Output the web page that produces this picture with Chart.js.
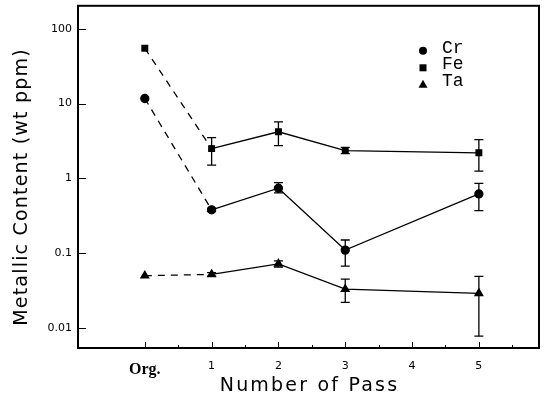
<!DOCTYPE html>
<html>
<head>
<meta charset="utf-8">
<script src="https://cdn.jsdelivr.net/npm/chart.js@4/dist/chart.umd.min.js"></script>
<style>
  html, body { margin: 0; padding: 0; background: #fff; }
  #wrap { width: 548px; height: 407px; }
</style>
</head>
<body>
<div id="wrap"><canvas id="chart"></canvas></div>
<script>
// x positions: 0 = "Org.", then pass numbers
const passes = [0, 1, 2, 3, 5];
const xTickValues = [0, 1, 2, 3, 4, 5];
const xTickLabels = ['Org.', '1', '2', '3', '4', '5'];
const yTickLabels = [0.01, 0.1, 1, 10, 100];

const crValues = [11.7, 0.38, 0.74, 0.11, 0.62];
const crLow    = [null, 0.36, 0.64, 0.067, 0.37];
const crHigh   = [null, 0.40, 0.88, 0.15, 0.86];

const feValues = [55, 2.5, 4.2, 2.35, 2.2];
const feLow    = [null, 1.5, 2.75, 2.15, 1.25];
const feHigh   = [null, 3.5, 5.7, 2.6, 3.3];

const taValues = [0.05, 0.052, 0.072, 0.033, 0.029];
const taLow    = [null, 0.049, 0.065, 0.022, 0.0078];
const taHigh   = [null, 0.055, 0.079, 0.045, 0.049];

const seriesNames = ['Cr', 'Fe', 'Ta'];
const pointStyles = ['circle', 'rect', 'triangle'];
const xTitle = 'Number of Pass';
const yTitle = 'Metallic Content (wt ppm)';

function pts(vals) {
  return passes.map((x, i) => ({ x: x, y: vals[i] }));
}

// dashed from Org. to pass 1, solid after
const segStyle = {
  borderDash: ctx => ctx.p0.parsed.x === 0 ? [7, 6] : undefined
};

function makeSet(i, vals, low, high) {
  return {
    label: seriesNames[i],
    data: pts(vals),
    low: low,
    high: high,
    borderColor: '#000',
    backgroundColor: '#000',
    borderWidth: 1.3,
    pointStyle: pointStyles[i],
    pointRadius: i === 2 ? 4.5 : 4,
    segment: segStyle,
    tension: 0
  };
}

const errorBars = {
  id: 'errorBars',
  afterDatasetsDraw(chart) {
    const c = chart.ctx, xs = chart.scales.x, ys = chart.scales.y;
    c.save();
    c.strokeStyle = '#000';
    c.lineWidth = 1.3;
    chart.data.datasets.forEach(ds => {
      passes.forEach((p, i) => {
        if (ds.low[i] == null) return;
        const x = xs.getPixelForValue(p);
        const y1 = ys.getPixelForValue(ds.low[i]);
        const y2 = ys.getPixelForValue(ds.high[i]);
        c.beginPath();
        c.moveTo(x, y1); c.lineTo(x, y2);
        c.moveTo(x - 4.5, y1); c.lineTo(x + 4.5, y1);
        c.moveTo(x - 4.5, y2); c.lineTo(x + 4.5, y2);
        c.stroke();
      });
    });
    c.restore();
  }
};

const frameAndTicks = {
  id: 'frameAndTicks',
  afterDraw(chart) {
    const c = chart.ctx, a = chart.chartArea;
    const xs = chart.scales.x, ys = chart.scales.y;
    c.save();
    c.strokeStyle = '#000';
    c.lineWidth = 2;
    c.strokeRect(a.left, a.top, a.right - a.left, a.bottom - a.top);
    c.lineWidth = 1;
    // inward ticks on y (log)
    ys.ticks.forEach(t => {
      const y = Math.round(ys.getPixelForValue(t.value)) + 0.5;
      const major = yTickLabels.includes(t.value);
      c.beginPath();
      c.moveTo(a.left, y);
      c.lineTo(a.left + (major ? 8 : 4), y);
      c.stroke();
    });
    // inward ticks on x, with half steps
    for (let v = 0; v <= 5.5; v += 0.5) {
      const x = Math.round(xs.getPixelForValue(v)) + 0.5;
      const major = v % 1 === 0;
      c.beginPath();
      c.moveTo(x, a.bottom);
      c.lineTo(x, a.bottom - (major ? 6 : 3));
      c.stroke();
    }
    // axis titles, spaced out like the original lettering
    c.fillStyle = '#000';
    c.textAlign = 'center';
    c.textBaseline = 'middle';
    c.font = '19px "DejaVu Sans", sans-serif';
    c.letterSpacing = '2.2px';
    c.fillText(xTitle, (a.left + a.right) / 2 + 1, 386);
    c.translate(22, 187);
    c.rotate(-Math.PI / 2);
    c.letterSpacing = '1.2px';
    c.fillText(yTitle, 0, 0);
    c.restore();
  }
};

const markerLegend = {
  id: 'markerLegend',
  afterDraw(chart) {
    const c = chart.ctx, a = chart.chartArea;
    c.save();
    c.fillStyle = '#000';
    c.font = '18px "Liberation Mono", monospace';
    c.textBaseline = 'middle';
    const mx = a.left + 345, tx = a.left + 364;
    const rows = [a.top + 42, a.top + 58.5, a.top + 75];
    chart.data.datasets.forEach((ds, i) => {
      const y = rows[i];
      c.beginPath();
      if (pointStyles[i] === 'circle') {
        c.arc(mx, y + 3, 4, 0, Math.PI * 2);
      } else if (pointStyles[i] === 'rect') {
        c.rect(mx - 3.5, y, 7, 7);
      } else {
        c.moveTo(mx - 4.5, y + 7); c.lineTo(mx + 4.5, y + 7); c.lineTo(mx, y - 1);
        c.closePath();
      }
      c.fill();
      c.fillText(ds.label, tx, y);
    });
    c.restore();
  }
};

function noPad(s) {
  s.paddingTop = 0; s.paddingBottom = 0;
  s.paddingLeft = 0; s.paddingRight = 0;
}

new Chart(document.getElementById('chart'), {
  type: 'line',
  data: {
    datasets: [
      makeSet(0, crValues, crLow, crHigh),
      makeSet(1, feValues, feLow, feHigh),
      makeSet(2, taValues, taLow, taHigh)
    ]
  },
  options: {
    responsive: true,
    maintainAspectRatio: false,
    animation: false,
    layout: { padding: { left: 0, right: 9, top: 5, bottom: 0 } },
    plugins: {
      legend: { display: false },
      tooltip: { enabled: false }
    },
    scales: {
      x: {
        type: 'linear',
        min: -1,
        max: 5.9,
        afterBuildTicks: s => { s.ticks = xTickValues.map(v => ({ value: v })); },
        afterFit: s => { s.height = 59; noPad(s); },
        ticks: {
          color: '#000',
          font: ctx => ctx.tick && ctx.tick.value === 0
            ? { family: 'Liberation Serif', size: 16, weight: 'bold' }
            : { family: 'DejaVu Sans', size: 11 },
          padding: 12,
          callback: (v) => xTickLabels[xTickValues.indexOf(v)]
        },
        grid: { display: false, drawTicks: false },
        border: { display: false }
      },
      y: {
        type: 'logarithmic',
        min: 0.0054,
        max: 203,
        afterFit: s => { s.width = 78; noPad(s); },
        ticks: {
          color: '#000',
          font: { family: 'DejaVu Sans', size: 11 },
          padding: 6,
          autoSkip: false,
          callback: (v) => yTickLabels.includes(v) ? String(v) : null
        },
        grid: { display: false, drawTicks: false },
        border: { display: false }
      }
    }
  },
  plugins: [errorBars, frameAndTicks, markerLegend]
});
</script>
</body>
</html>
